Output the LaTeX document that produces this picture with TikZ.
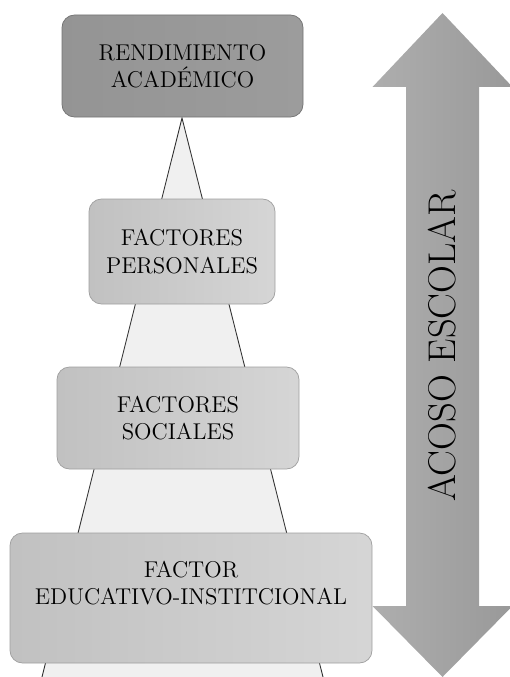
\documentclass[tikz,border=0pt]{standalone}
\definecolor{grisoscuro}{HTML}{9C9C9C}
\definecolor{grismedio}{HTML}{CBCBCB}
\definecolor{grisclaro}{HTML}{F0F0F0}
\definecolor{grisflecha}{HTML}{AEAEAE}
\definecolor{grisflechab}{HTML}{999999}
\begin{document}
\begin{tikzpicture}[
    caja/.style={draw=gray!75, rounded corners=0.25cm, inner sep=0pt,
      align=center, font=\fontsize{13}{15.5}\selectfont,
      left color=grismedio!95!black, right color=grismedio!80!white},
    cajatexto/.style={align=center, font=\fontsize{13}{15.5}\selectfont},
  ]
  \useasboundingbox (0,0) rectangle (10.2,-13.54);
  \path
    (3.64,-2.36) coordinate (apex)
    (0.84,-13.54) coordinate (bl)
    (6.46,-13.54) coordinate (br)
  ;
  % Piramide
  \fill[grisclaro] (apex) -- (br) -- (bl) -- cycle;
  \draw[line width=0.5pt, black!80] (bl) -- (apex) -- (br);
  % Cajas
  \node[caja, minimum width=4.82cm, minimum height=2.04cm,
    left color=grisoscuro!95!black, right color=grisoscuro, draw=gray!90!black]
    (rend) at (3.65,-1.32) {RENDIMIENTO\\ACADÉMICO};
  \node[caja, minimum width=3.72cm, minimum height=2.10cm]
    (pers) at (3.64,-5.03) {FACTORES\\PERSONALES};
  \node[caja, minimum width=4.84cm, minimum height=2.04cm]
    (soc) at (3.56,-8.36) {FACTORES\\SOCIALES};
  \node[caja, minimum width=7.24cm, minimum height=2.60cm]
    (edu) at (3.82,-11.96) {};
  \node[cajatexto] (edutexto) at ([yshift=0.3cm]edu.center)
    {FACTOR\\EDUCATIVO-INSTITCIONAL};
  % Flecha
  \def\cx{8.85}
  \path[left color=grisflecha, right color=grisflechab]
    (\cx,-0.26) -- (\cx+1.4,-1.74) -- (\cx+0.73,-1.74) -- (\cx+0.73,-12.12)
    -- (\cx+1.4,-12.12) -- (\cx,-13.54) -- (\cx-1.4,-12.12) -- (\cx-0.73,-12.12)
    -- (\cx-0.73,-1.74) -- (\cx-1.4,-1.74) -- cycle;
  \node[rotate=90, font=\fontsize{22}{26}\selectfont] (acoso) at (\cx,-6.92) {ACOSO ESCOLAR};
\end{tikzpicture}
\end{document}
